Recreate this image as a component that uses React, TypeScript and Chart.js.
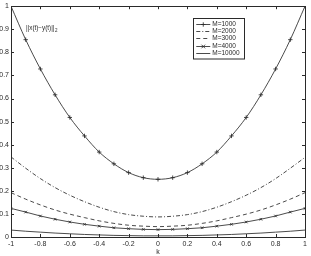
import React, { useEffect, useRef } from 'react';
import { Chart, registerables } from 'chart.js';

Chart.register(...registerables);

const kValues = [-1, -0.9, -0.8, -0.7, -0.6, -0.5, -0.4, -0.3, -0.2, -0.1, 0, 0.1, 0.2, 0.3, 0.4, 0.5, 0.6, 0.7, 0.8, 0.9, 1];
const m1000 = [1, 0.855, 0.728, 0.616, 0.518, 0.438, 0.368, 0.317, 0.279, 0.257, 0.25, 0.257, 0.279, 0.317, 0.368, 0.438, 0.518, 0.616, 0.728, 0.855, 1];
const m2000 = [0.347, 0.298, 0.253, 0.214, 0.181, 0.153, 0.129, 0.11, 0.097, 0.09, 0.087, 0.09, 0.097, 0.11, 0.129, 0.153, 0.181, 0.214, 0.253, 0.298, 0.345];
const m3000 = [0.192, 0.164, 0.139, 0.117, 0.099, 0.084, 0.07, 0.059, 0.051, 0.047, 0.045, 0.047, 0.051, 0.059, 0.07, 0.084, 0.099, 0.117, 0.139, 0.164, 0.192];
const m4000 = [0.124, 0.108, 0.091, 0.077, 0.065, 0.055, 0.047, 0.04, 0.036, 0.033, 0.032, 0.033, 0.036, 0.04, 0.047, 0.055, 0.065, 0.077, 0.091, 0.108, 0.124];
const m10000 = [0.03, 0.025, 0.021, 0.017, 0.014, 0.011, 0.009, 0.007, 0.006, 0.005, 0.005, 0.005, 0.006, 0.007, 0.009, 0.011, 0.014, 0.017, 0.021, 0.025, 0.03];

const seriesLabels = ['M=1000', 'M=2000', 'M=3000', 'M=4000', 'M=10000'];
const xTickValues = [-1, -0.8, -0.6, -0.4, -0.2, 0, 0.2, 0.4, 0.6, 0.8, 1];
const xTickLabels = ['-1', '-0.8', '-0.6', '-0.4', '-0.2', '0', '0.2', '0.4', '0.6', '0.8', '1'];
const yTickValues = [0, 0.1, 0.2, 0.3, 0.4, 0.5, 0.6, 0.7, 0.8, 0.9, 1];
const yTickLabels = ['0', '0.1', '0.2', '0.3', '0.4', '0.5', '0.6', '0.7', '0.8', '0.9', '1'];
const xTitle = 'k';
const annotationText = '||x(t)\u2212y(t)||';
const annotationSub = '2';

const INK = '#2a2a2a';
const FONT = 'Liberation Sans, Arial, Helvetica, sans-serif';

const toPoints = (ys: number[]) => kValues.map((x, i) => ({ x, y: ys[i] }));

function drawMarker(ctx: CanvasRenderingContext2D, style: string, x: number, y: number, r: number) {
  ctx.beginPath();
  if (style === 'cross') {
    ctx.moveTo(x - r, y); ctx.lineTo(x + r, y);
    ctx.moveTo(x, y - r); ctx.lineTo(x, y + r);
  } else if (style === 'crossRot') {
    ctx.moveTo(x - r, y - r); ctx.lineTo(x + r, y + r);
    ctx.moveTo(x - r, y + r); ctx.lineTo(x + r, y - r);
  }
  ctx.stroke();
}

const framePlugin = {
  id: 'frame',
  afterDatasetsDraw(chart: any) {
    const { ctx, chartArea, scales } = chart;
    const { left, right, top, bottom } = chartArea;
    ctx.save();
    ctx.strokeStyle = INK;
    ctx.lineWidth = 1;
    ctx.setLineDash([]);
    ctx.strokeRect(Math.round(left) + 0.5, Math.round(top) + 0.5, Math.round(right - left), Math.round(bottom - top));
    const tl = 3;
    ctx.beginPath();
    xTickValues.forEach((v) => {
      const px = Math.round(scales.x.getPixelForValue(v)) + 0.5;
      ctx.moveTo(px, bottom); ctx.lineTo(px, bottom - tl);
      ctx.moveTo(px, top); ctx.lineTo(px, top + tl);
    });
    yTickValues.forEach((v) => {
      const py = Math.round(scales.y.getPixelForValue(v)) + 0.5;
      ctx.moveTo(left, py); ctx.lineTo(left + tl, py);
      ctx.moveTo(right, py); ctx.lineTo(right - tl, py);
    });
    ctx.stroke();

    // x title
    ctx.fillStyle = INK;
    ctx.font = `7px ${FONT}`;
    ctx.textAlign = 'center';
    ctx.textBaseline = 'middle';
    ctx.fillText(xTitle, (left + right) / 2, bottom + 15);

    // annotation
    ctx.textAlign = 'left';
    ctx.textBaseline = 'alphabetic';
    ctx.font = `6.3px ${FONT}`;
    const ax = left + 15;
    const ay = top + 24;
    ctx.fillText(annotationText, ax, ay);
    const w = ctx.measureText(annotationText).width;
    ctx.font = `4.5px ${FONT}`;
    ctx.fillText(annotationSub, ax + w + 0.5, ay + 2);

    // legend
    const lx = left + (right - left) * 0.62;
    const ly = top + 11.5;
    const lw = 51;
    const lh = 40.5;
    ctx.fillStyle = '#fff';
    ctx.fillRect(lx, ly, lw, lh);
    ctx.strokeStyle = INK;
    ctx.lineWidth = 1;
    ctx.strokeRect(Math.round(lx) + 0.5, Math.round(ly) + 0.5, lw, lh);
    ctx.font = `6.5px ${FONT}`;
    ctx.textBaseline = 'middle';
    chart.data.datasets.forEach((ds: any, i: number) => {
      const ry = Math.round(ly + 6 + i * 7.3) + 0.5;
      ctx.strokeStyle = ds.borderColor;
      ctx.lineWidth = ds.borderWidth;
      ctx.setLineDash(ds.borderDash || []);
      ctx.beginPath();
      ctx.moveTo(lx + 3, ry);
      ctx.lineTo(lx + 17, ry);
      ctx.stroke();
      ctx.setLineDash([]);
      if (ds.pointRadius > 0) drawMarker(ctx, ds.pointStyle, lx + 10, ry, ds.pointRadius);
      ctx.fillStyle = INK;
      ctx.fillText(ds.label, lx + 19, ry);
    });
    ctx.restore();
  },
};

export default function App() {
  const ref = useRef<HTMLCanvasElement | null>(null);
  useEffect(() => {
    if (!ref.current) return;
    const common = {
      borderColor: INK,
      borderWidth: 0.85,
      fill: false,
      cubicInterpolationMode: 'monotone' as const,
      pointBorderColor: INK,
      pointBackgroundColor: INK,
      pointBorderWidth: 0.85,
      pointHoverRadius: 0,
    };
    const chart = new Chart(ref.current, {
      type: 'line',
      data: {
        datasets: [
          { ...common, label: seriesLabels[0], data: toPoints(m1000), pointStyle: 'cross', pointRadius: 2.2 },
          { ...common, label: seriesLabels[1], data: toPoints(m2000), pointRadius: 0, borderDash: [4, 2, 1, 2] },
          { ...common, label: seriesLabels[2], data: toPoints(m3000), pointRadius: 0, borderDash: [4, 3] },
          { ...common, label: seriesLabels[3], data: toPoints(m4000), pointStyle: 'crossRot', pointRadius: 1.8 },
          { ...common, label: seriesLabels[4], data: toPoints(m10000), pointRadius: 0 },
        ] as any,
      },
      options: {
        responsive: false,
        animation: false,
        devicePixelRatio: 1,
        events: [],
        layout: { padding: { left: 0, top: 5, right: 6, bottom: 0 } },
        plugins: { legend: { display: false }, tooltip: { enabled: false } },
        scales: {
          x: {
            type: 'linear',
            min: -1,
            max: 1,
            afterFit: (s: any) => { s.height = 19; },
            afterBuildTicks: (s: any) => { s.ticks = xTickValues.map((v) => ({ value: v })); },
            grid: { display: false, drawTicks: false },
            border: { display: false },
            ticks: {
              padding: 3,
              maxRotation: 0,
              autoSkip: false,
              color: INK,
              font: { family: FONT, size: 7 },
              callback: (_v: any, i: number) => xTickLabels[i],
            },
          },
          y: {
            type: 'linear',
            min: 0,
            max: 1,
            afterFit: (s: any) => { s.width = 11; },
            afterBuildTicks: (s: any) => { s.ticks = yTickValues.map((v) => ({ value: v })); },
            grid: { display: false, drawTicks: false },
            border: { display: false },
            ticks: {
              padding: 2,
              autoSkip: false,
              color: INK,
              font: { family: FONT, size: 7 },
              callback: (_v: any, i: number) => yTickLabels[i],
            },
          },
        },
      },
      plugins: [framePlugin],
    });
    return () => chart.destroy();
  }, []);
  return (
    <div style={{ position: 'fixed', left: 0, top: 0, width: 311, height: 256, background: '#fff' }}>
      <canvas ref={ref} width={311} height={256} style={{ display: 'block', width: 311, height: 256 }} />
    </div>
  );
}
